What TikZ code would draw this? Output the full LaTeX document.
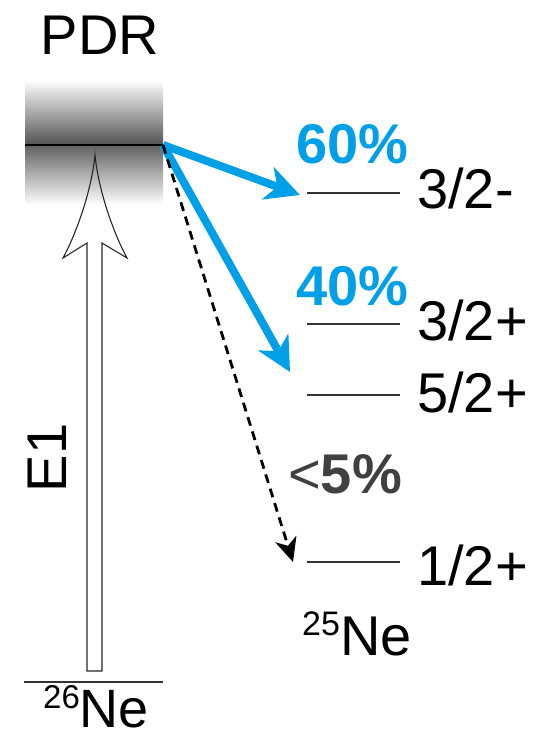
\documentclass[tikz,border=0pt]{standalone}
\usepackage{fontspec}
\setmainfont{Liberation Sans}
\usetikzlibrary{arrows.meta}
\definecolor{cblue}{HTML}{00A0E9}
\definecolor{dgray}{HTML}{404040}
\tikzset{
  txt/.style={inner sep=0pt, font=\fontsize{56}{60}\selectfont},
  spin/.style={txt, anchor=base west},
  pct/.style={inner sep=0pt, anchor=base west, font=\fontsize{56}{60}\selectfont\bfseries, cblue},
  level/.style={line width=1.2pt, black!80},
  branch/.style={line width=8pt, cblue, -{Stealth[length=34pt,width=34pt,inset=10pt]}},
  weak/.style={line width=2.8pt, dash pattern=on 9pt off 6pt, -{Stealth[length=24pt,width=22pt,inset=7pt]}},
  hollow/.style={line width=1.1pt, black!85, line join=miter}
}
\begin{document}
\begin{tikzpicture}[x=1pt,y=-1pt]
    \useasboundingbox (0,0) rectangle (559,741);
    % PDR band
    \shade[top color=white, bottom color=black!68] (25,80) rectangle (163,145);
    \shade[top color=black!62, bottom color=white] (25,145) rectangle (163,205);
    \coordinate (pdrl) at (25,145);
    \coordinate (top) at (163,145);
    \draw[line width=1.6pt] (pdrl) -- (top);
    \node[txt, anchor=base] (pdr) at (100,55) {PDR};
    % ground state of 26Ne and E1 excitation
    \coordinate (gl) at (24,682);
    \coordinate (gr) at (163,682);
    \draw[level] (gl) -- (gr);
    \draw[hollow] (95,155) .. controls (91,195) and (74,238) .. (63,258)
        -- (87,243) -- (87,671) -- (102,671) -- (102,243) -- (127,258)
        .. controls (116,238) and (99,195) .. (95,155) -- cycle;
    \node[txt, rotate=90] (e1) at (47,458) {E1};
    \node[spin, font=\fontsize{54}{58}\selectfont] (ne26) at (43,727) {\raisebox{19pt}{\fontsize{33}{36}\selectfont 26}Ne};
    % levels of 25Ne
    \coordinate (a1) at (307,193); \coordinate (a2) at (400,193);
    \coordinate (b1) at (307,324); \coordinate (b2) at (400,324);
    \coordinate (c1) at (307,395); \coordinate (c2) at (400,395);
    \coordinate (d1) at (307,562); \coordinate (d2) at (400,562);
    \draw[level] (a1) -- (a2);
    \draw[level] (b1) -- (b2);
    \draw[level] (c1) -- (c2);
    \draw[level] (d1) -- (d2);
    \node[spin] (sa) at (417,208) {3/2-};
    \node[spin] (sb) at (417,340) {3/2+};
    \node[spin] (sc) at (417,412) {5/2+};
    \node[spin] (sd) at (417,585) {1/2+};
    \node[spin] (ne25) at (302,655) {\raisebox{20pt}{\fontsize{34}{36}\selectfont 25}Ne};
    % decay branches
    \coordinate (ta) at (300,195);
    \coordinate (tb) at (290,372);
    \coordinate (td) at (293,562);
    \draw[branch] (top) -- (ta);
    \draw[branch] (top) -- (tb);
    \draw[weak] (top) -- (td);
    \node[pct] (p60) at (296,163) {60\%};
    \node[pct] (p40) at (296,305) {40\%};
    \node[txt, anchor=base west, dgray] (p5) at (288,493) {<\textbf{5\%}};
\end{tikzpicture}
\end{document}
